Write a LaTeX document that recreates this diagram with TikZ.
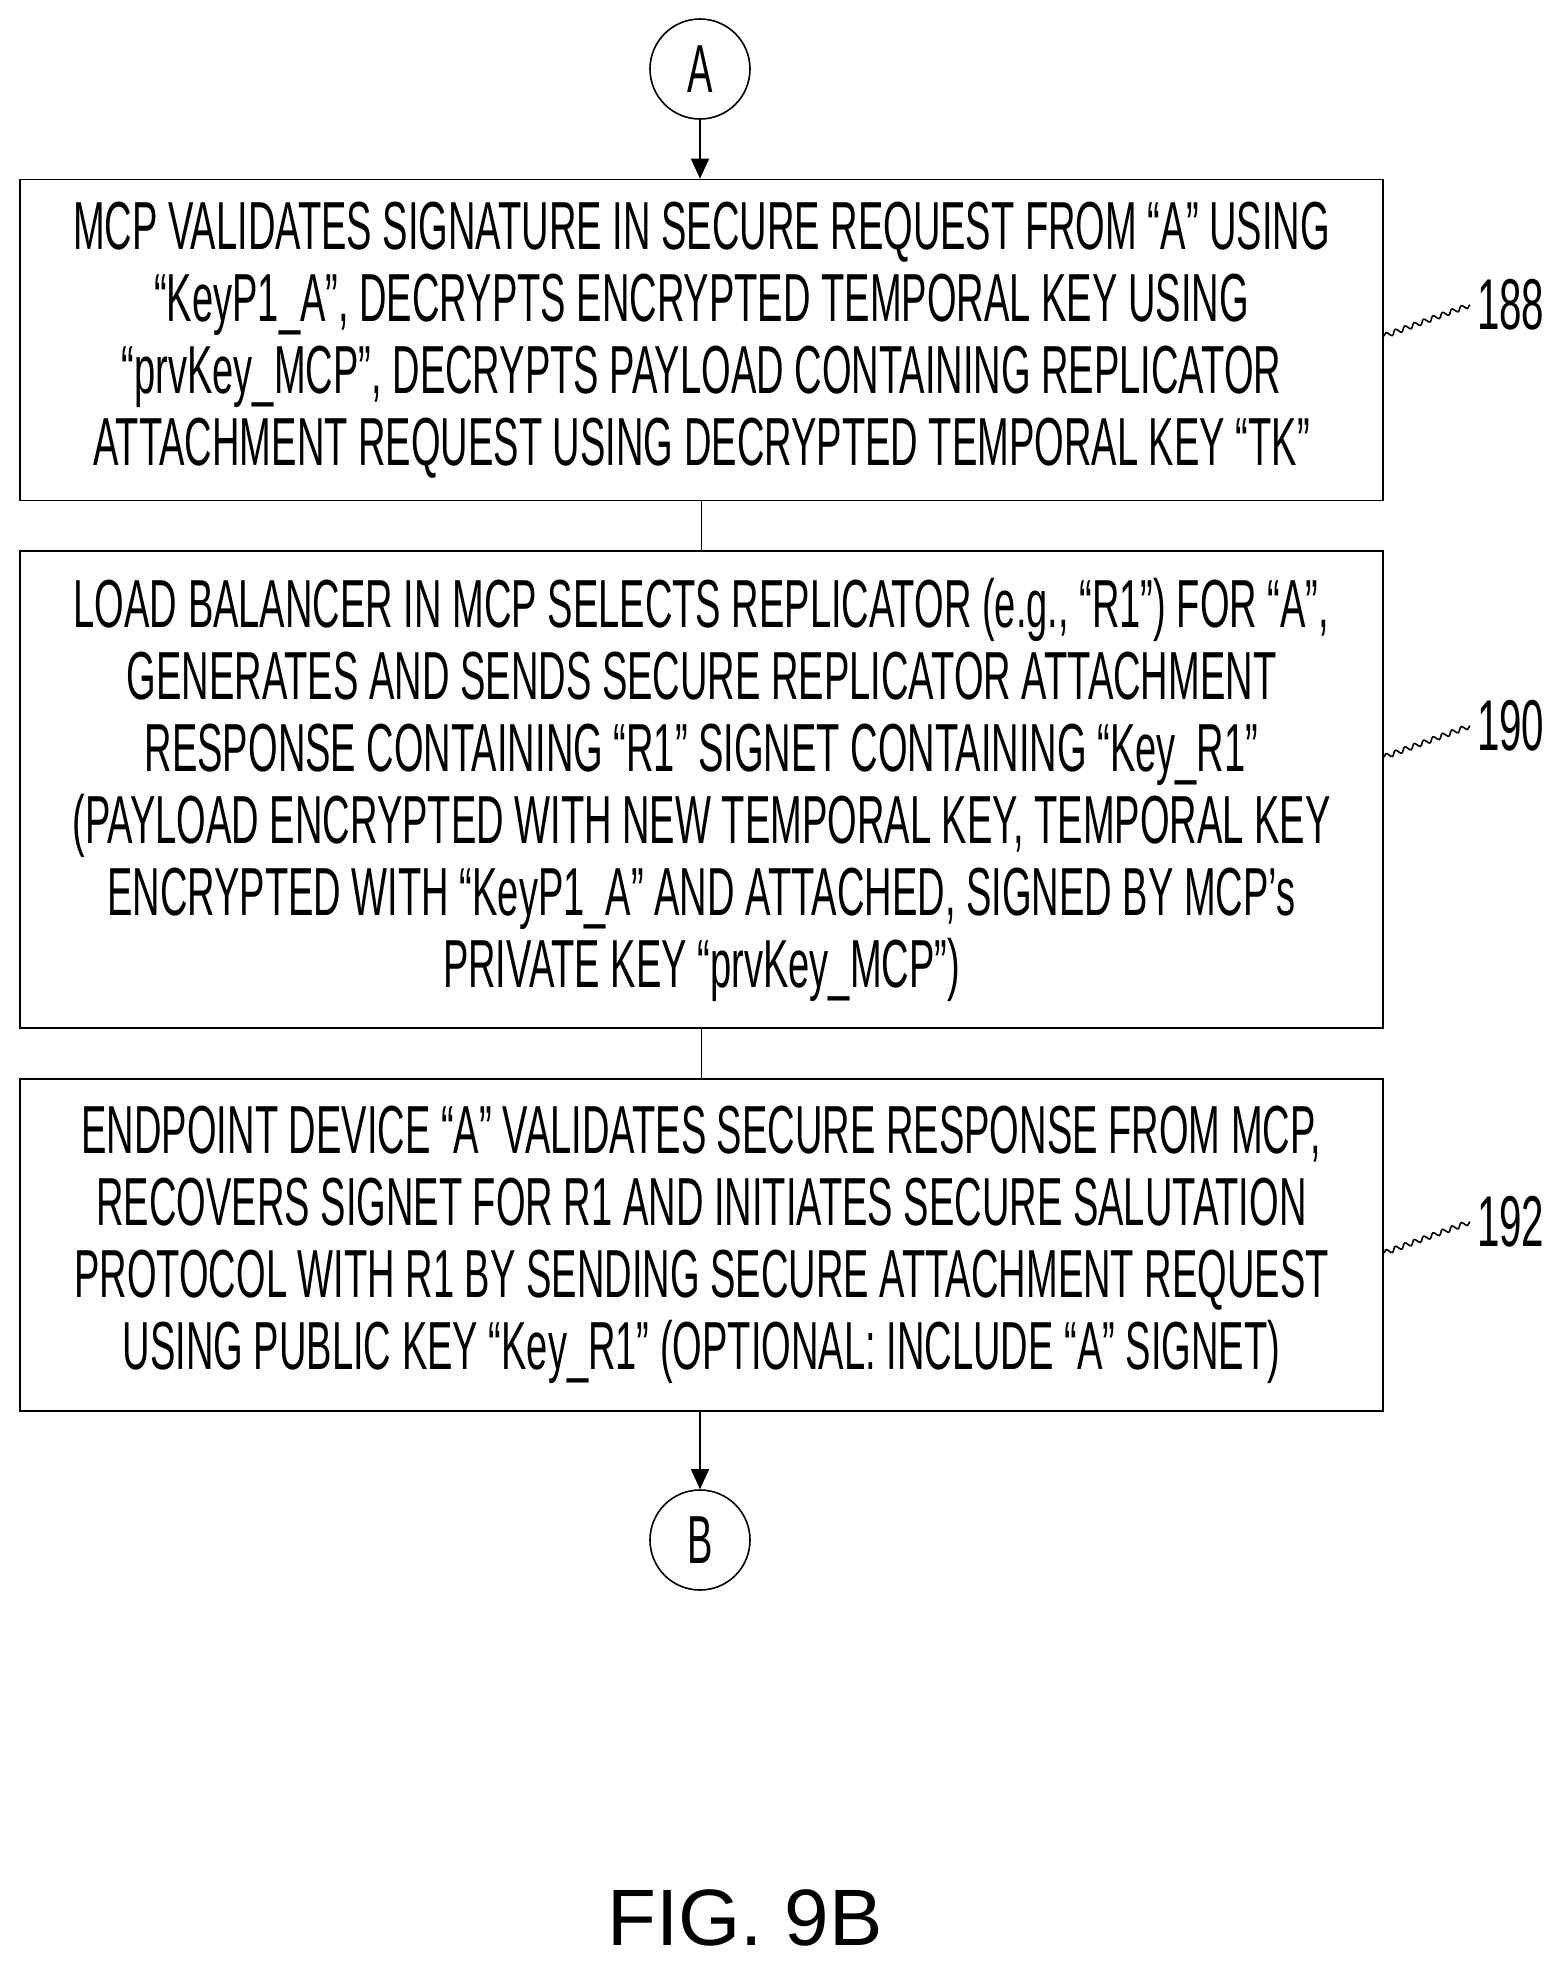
\documentclass[tikz,border=0pt]{standalone}
\usepackage{fontspec}
\setmainfont{Liberation Sans}[FakeStretch=0.56]
\newfontfamily\wideface{Liberation Sans}
\usetikzlibrary{decorations.pathmorphing,arrows.meta}
\tikzset{
    stepbox/.style={draw,thick,minimum width=681.5pt,align=center,font=\fontsize{34}{36}\selectfont,inner sep=0pt},
    conn/.style={draw,thick,circle,minimum size=50pt,font=\fontsize{34}{36}\selectfont,inner sep=0pt},
    ref/.style={font=\fontsize{36}{36}\selectfont,anchor=west},
    lead/.style={thick,decorate,decoration={snake,amplitude=1.2pt,segment length=5pt}},
    flow/.style={thick,-{Triangle[length=10pt,width=9pt]}}
}
\begin{document}
\begin{tikzpicture}[x=0.5pt,y=-0.5pt]
    \useasboundingbox (0,0) rectangle (1552,1977);
    \node [conn] (A) at (700,69) {A};
    \node [stepbox,minimum height=160.5pt] (s188) at (701.5,340) {MCP VALIDATES SIGNATURE IN SECURE REQUEST FROM ``A'' USING\\
        ``KeyP1\_A'', DECRYPTS ENCRYPTED TEMPORAL KEY USING\\
        ``prvKey\_MCP'', DECRYPTS PAYLOAD CONTAINING REPLICATOR\\
        ATTACHMENT REQUEST USING DECRYPTED TEMPORAL KEY ``TK''};
    \node [stepbox,minimum height=238.5pt] (s190) at (701.5,789.5) {LOAD BALANCER IN MCP SELECTS REPLICATOR (e.g., ``R1'') FOR ``A'',\\
        GENERATES AND SENDS SECURE REPLICATOR ATTACHMENT\\
        RESPONSE CONTAINING ``R1'' SIGNET CONTAINING ``Key\_R1''\\
        (PAYLOAD ENCRYPTED WITH NEW TEMPORAL KEY, TEMPORAL KEY\\
        ENCRYPTED WITH ``KeyP1\_A'' AND ATTACHED, SIGNED BY MCP's\\
        PRIVATE KEY ``prvKey\_MCP'')};
    \node [stepbox,minimum height=166pt] (s192) at (701.5,1245) {ENDPOINT DEVICE ``A'' VALIDATES SECURE RESPONSE FROM MCP,\\
        RECOVERS SIGNET FOR R1 AND INITIATES SECURE SALUTATION\\
        PROTOCOL WITH R1 BY SENDING SECURE ATTACHMENT REQUEST\\
        USING PUBLIC KEY ``Key\_R1'' (OPTIONAL: INCLUDE ``A'' SIGNET)};
    \node [conn] (B) at (700,1540) {B};
    \draw [flow] (A) -- (A |- s188.north);
    \draw [thick] (s188) -- (s190);
    \draw [thick] (s190) -- (s192);
    \draw [flow] (s192.south -| B) -- (B);
    % reference numerals
    \node [ref] (n188) at (1470,305) {188};
    \node [ref] (n190) at (1470,726) {190};
    \node [ref] (n192) at (1470,1222) {192};
    \draw [lead] (s188.east |- 0,336) -- (n188.west);
    \draw [lead] (s190.east |- 0,757) -- (n190.west);
    \draw [lead] (s192.east |- 0,1253) -- (n192.west);
    \node [font=\wideface\fontsize{40}{48}\selectfont] (fig) at (745,1918) {FIG. 9B};
\end{tikzpicture}
\end{document}
